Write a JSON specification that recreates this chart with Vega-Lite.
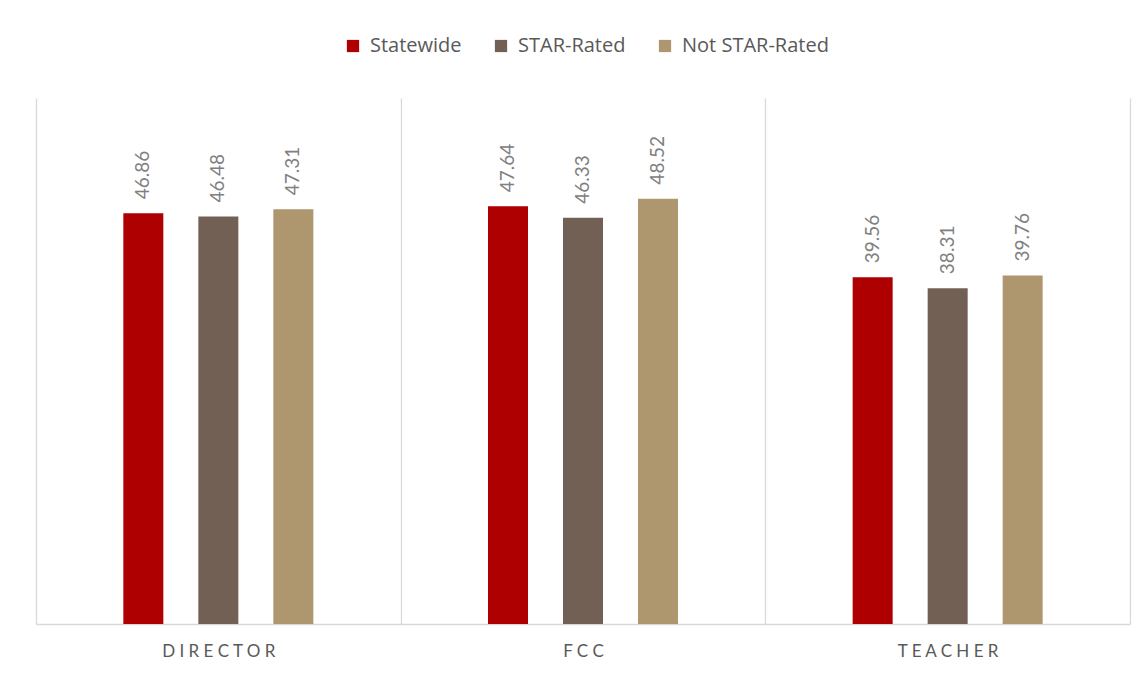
{
  "$schema": "https://vega.github.io/schema/vega-lite/v6.json",
  "width": 1094,
  "height": 526,
  "autosize": "none",
  "padding": {"left": 36, "top": 98, "right": 15, "bottom": 53},
  "background": "white",
  "data": {
    "values": [
      {"role": "DIRECTOR", "group": "Statewide", "value": 46.86},
      {"role": "DIRECTOR", "group": "STAR-Rated", "value": 46.48},
      {"role": "DIRECTOR", "group": "Not STAR-Rated", "value": 47.31},
      {"role": "FCC", "group": "Statewide", "value": 47.64},
      {"role": "FCC", "group": "STAR-Rated", "value": 46.33},
      {"role": "FCC", "group": "Not STAR-Rated", "value": 48.52},
      {"role": "TEACHER", "group": "Statewide", "value": 39.56},
      {"role": "TEACHER", "group": "STAR-Rated", "value": 38.31},
      {"role": "TEACHER", "group": "Not STAR-Rated", "value": 39.76}
    ]
  },
  "encoding": {
    "x": {
      "field": "role", "type": "nominal", "sort": ["DIRECTOR", "FCC", "TEACHER"],
      "scale": {"paddingInner": 0, "paddingOuter": 0},
      "axis": {
        "title": null, "labelAngle": 0, "tickBand": "extent", "grid": true,
        "gridColor": "#d9d9d9", "gridWidth": 1.3, "ticks": false,
        "domainColor": "#d9d9d9", "domainWidth": 1.3,
        "labelFont": "Lato", "labelFontSize": 17, "labelColor": "#595959",
        "labelPadding": 19, "labelBaseline": "top",
        "labelExpr": "join(split(datum.label, ''), ' ')"
      }
    },
    "xOffset": {
      "field": "group", "type": "nominal", "sort": ["Statewide", "STAR-Rated", "Not STAR-Rated"],
      "scale": {"paddingInner": 0, "paddingOuter": 0.931}
    },
    "y": {
      "field": "value", "type": "quantitative",
      "scale": {"domain": [0, 60], "nice": false},
      "axis": null
    }
  },
  "layer": [
    {
      "mark": {"type": "bar", "width": 40},
      "encoding": {
        "color": {
          "field": "group", "type": "nominal",
          "sort": ["Statewide", "STAR-Rated", "Not STAR-Rated"],
          "scale": {"domain": ["Statewide", "STAR-Rated", "Not STAR-Rated"], "range": ["#ae0000", "#726055", "#ae966f"]},
          "legend": {
            "title": null, "orient": "none", "direction": "horizontal",
            "legendX": 307, "legendY": -62,
            "symbolType": "square", "symbolSize": 150, "symbolStrokeWidth": 0, "symbolOpacity": 1,
            "labelFont": "Open Sans", "labelFontSize": 20, "labelColor": "#595959",
            "columnPadding": 29, "labelOffset": 7
          }
        }
      }
    },
    {
      "mark": {"type": "text", "angle": -90, "align": "left", "baseline": "middle", "dx": 14,
               "font": "Lato", "fontSize": 19, "color": "#808080"},
      "encoding": {
        "text": {"field": "value", "type": "quantitative", "format": ".2f"}
      }
    }
  ],
  "config": {
    "view": {"stroke": null}
  }
}
